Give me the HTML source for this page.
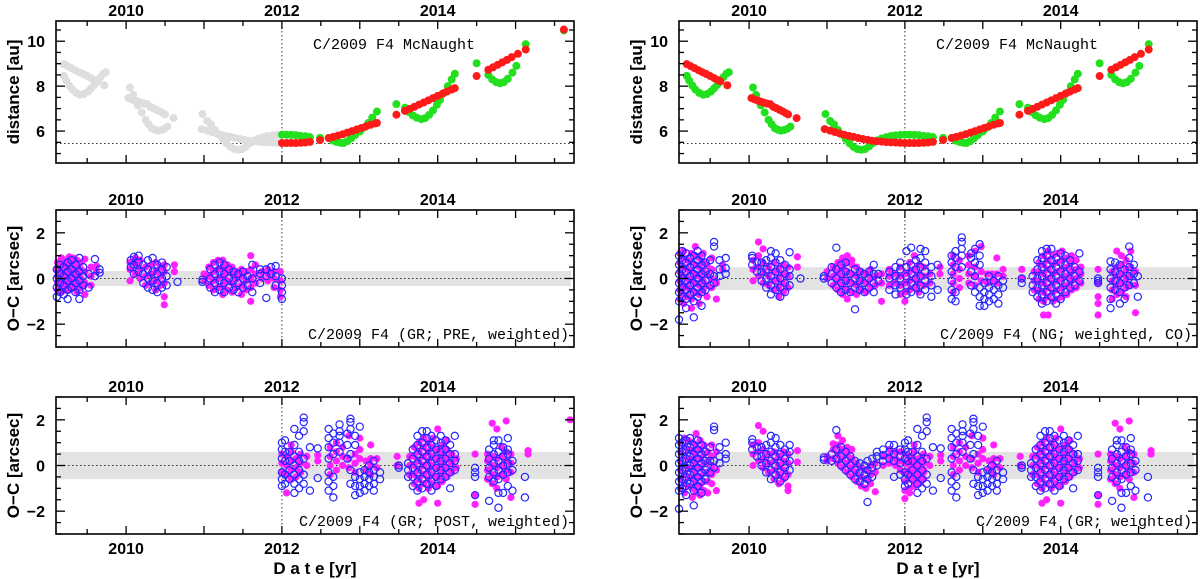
<!DOCTYPE html>
<html><head><meta charset="utf-8"><style>
html,body{margin:0;padding:0;background:#fff;}
svg{display:block;}
.tk{font-family:"Liberation Sans",sans-serif;font-weight:bold;font-size:16px;fill:#000;}
.ttl{font-family:"Liberation Sans",sans-serif;font-weight:bold;font-size:17px;fill:#000;}
.ann{font-family:"Liberation Mono",monospace;font-size:15px;fill:#000;}
</style></head><body>
<svg id="fig" xmlns="http://www.w3.org/2000/svg" width="1200" height="579" viewBox="0 0 1200 579"></svg>
<script>
// ---------- distance data (year, au) ----------
const redDist = [[2009.20,8.98],[2009.25,8.89],[2009.30,8.80],[2009.35,8.71],[2009.40,8.62],[2009.45,8.54],[2009.50,8.45],[2009.55,8.36],[2009.60,8.27],[2009.63,8.22],[2009.72,8.04],
[2010.03,7.47],[2010.07,7.41],[2010.11,7.36],[2010.15,7.31],[2010.19,7.27],[2010.23,7.22],[2010.27,7.20],[2010.31,7.08],[2010.35,7.02],[2010.39,6.95],[2010.43,6.88],[2010.47,6.80],[2010.50,6.74],[2010.61,6.58],
[2010.97,6.09],[2011.04,6.02],[2011.10,5.96],[2011.16,5.90],[2011.22,5.84],[2011.28,5.79],[2011.34,5.74],[2011.40,5.69],[2011.46,5.65],[2011.52,5.61],[2011.58,5.57],[2011.64,5.55],[2011.70,5.53],[2011.76,5.51],[2011.82,5.50],[2011.88,5.49],[2011.94,5.48],[2012.00,5.47],[2012.06,5.47],[2012.12,5.47],[2012.18,5.47],[2012.24,5.48],[2012.30,5.49],[2012.36,5.52],[2012.49,5.60],
[2012.60,5.69],[2012.66,5.74],[2012.72,5.80],[2012.78,5.86],[2012.84,5.93],[2012.90,6.00],[2012.96,6.07],[2013.02,6.14],[2013.08,6.21],[2013.14,6.28],[2013.20,6.34],[2013.22,6.36],
[2013.47,6.73],[2013.58,6.90],[2013.64,6.99],[2013.70,7.08],[2013.76,7.18],[2013.82,7.27],[2013.88,7.37],[2013.94,7.47],[2014.00,7.57],[2014.06,7.66],[2014.12,7.76],[2014.18,7.85],[2014.22,7.91],
[2014.50,8.45],[2014.65,8.73],[2014.71,8.84],[2014.77,8.95],[2014.83,9.06],[2014.89,9.17],[2014.95,9.29],[2015.03,9.44],[2015.13,9.63]];
const redDistExtra = [[2015.62,10.52]];
const greenDist = [[2009.20,8.46],[2009.23,8.25],[2009.27,8.03],[2009.31,7.85],[2009.36,7.70],[2009.41,7.62],[2009.46,7.65],[2009.51,7.76],[2009.55,7.90],[2009.59,8.05],[2009.63,8.20],[2009.67,8.40],[2009.71,8.56],[2009.74,8.62],
[2010.05,7.94],[2010.09,7.61],[2010.12,7.35],[2010.15,7.15],[2010.20,6.83],[2010.25,6.50],[2010.29,6.30],[2010.33,6.13],[2010.37,6.06],[2010.41,6.02],[2010.45,6.05],[2010.49,6.10],[2010.53,6.20],
[2010.98,6.76],[2011.04,6.45],[2011.09,6.30],[2011.14,6.05],[2011.19,5.85],[2011.24,5.65],[2011.29,5.45],[2011.34,5.30],[2011.39,5.20],[2011.44,5.17],[2011.49,5.20],[2011.54,5.32],[2011.59,5.47],[2011.64,5.58],[2011.70,5.67],[2011.76,5.73],[2011.82,5.78],[2011.88,5.81],[2011.94,5.83],[2012.00,5.84],[2012.06,5.84],[2012.12,5.83],[2012.18,5.82],[2012.24,5.79],[2012.30,5.77],[2012.36,5.73],[2012.49,5.70],
[2012.60,5.69],[2012.65,5.58],[2012.70,5.52],[2012.75,5.48],[2012.79,5.47],[2012.84,5.55],[2012.89,5.68],[2012.94,5.83],[2013.00,5.98],[2013.05,6.15],[2013.11,6.36],[2013.16,6.60],[2013.22,6.87],
[2013.47,7.20],[2013.58,7.04],[2013.63,6.85],[2013.68,6.70],[2013.73,6.60],[2013.79,6.53],[2013.84,6.58],[2013.89,6.72],[2013.94,6.92],[2013.99,7.17],[2014.03,7.39],[2014.08,7.70],[2014.13,8.00],[2014.18,8.30],[2014.22,8.55],
[2014.50,9.02],[2014.65,8.50],[2014.70,8.30],[2014.75,8.18],[2014.80,8.13],[2014.85,8.18],[2014.90,8.33],[2014.96,8.60],[2015.01,8.90],[2015.13,9.87]];
const greenDistExtra = [[2015.62,10.48]];

// ---------- O-C data: [year, [residuals arcsec]] ----------
const preMag = [[2009.12,[-0.5,-0.2,0.1,0.4,0.7]],[2009.17,[-0.6,-0.3,0,0.3,0.6,0.9]],[2009.22,[-0.4,-0.1,0.2,0.5,0.8]],[2009.27,[-0.5,-0.2,0.1,0.4,0.7,0.95]],[2009.32,[-0.3,0,0.3,0.6,0.9]],[2009.37,[-0.6,-0.2,0.2,0.5,0.8]],[2009.42,[-0.4,0,0.4,0.7]],[2009.47,[-0.7,-0.2,0.3,0.85]],[2009.55,[-0.3,0.1,0.5]],[2009.62,[0.3,0.55]],
[2010.05,[-0.1,0.4,0.7]],[2010.12,[0.2,0.6,0.9]],[2010.18,[0.0,0.4,0.8]],[2010.25,[-0.3,0.1,0.5]],[2010.32,[-0.2,0.2,0.6]],[2010.38,[-0.5,-0.1,0.3,0.7]],[2010.44,[-0.3,0.1,0.5]],[2010.49,[-0.8,-1.15,-0.2,0.3,0.6]],[2010.62,[0.3,0.6]],
[2011.0,[-0.1,0.2]],[2011.06,[-0.3,0.1,0.5]],[2011.12,[-0.5,-0.1,0.3,0.7]],[2011.18,[-0.4,0,0.4,0.8]],[2011.24,[-0.7,-0.3,0.1,0.5,0.8]],[2011.30,[-0.5,-0.1,0.3,0.6]],[2011.36,[-0.6,-0.2,0.2,0.5]],[2011.42,[-0.4,0,0.3]],[2011.48,[-0.7,-0.3,0.1,0.4]],[2011.54,[-0.5,-0.1,0.3]],[2011.6,[-1.0,-0.4,0,0.4,1.0]],[2011.66,[-0.2,0.2,0.6]],[2011.74,[0,0.3]],[2011.82,[-0.1,0.2,0.4]],[2011.9,[-0.4,0,0.3]],[2011.98,[-0.8,-0.5,-0.1,0.3]]];
const preBlue = [[2009.11,[-0.8,-0.4,0,0.4]],[2009.15,[-0.6,-0.2,0.2,0.6]],[2009.2,[-0.7,-0.3,0.1,0.5]],[2009.25,[-0.9,-0.5,-0.1,0.3,0.7]],[2009.3,[-0.4,0,0.4,0.8]],[2009.35,[-0.6,-0.2,0.2,0.6]],[2009.4,[-0.9,-0.5,-0.1,0.3,0.9]],[2009.45,[-0.3,0.1,0.5]],[2009.52,[-0.4,0.2]],[2009.6,[0.85,0.1]],[2009.66,[0.25,0.4]],
[2010.06,[0.5,0.8]],[2010.1,[0.2,0.6,0.95]],[2010.16,[0.3,0.7,1.0]],[2010.22,[-0.2,0.2,0.6]],[2010.28,[-0.4,0,0.4,0.8]],[2010.34,[-0.5,-0.1,0.3,0.9]],[2010.4,[-0.6,-0.2,0.2,0.6]],[2010.46,[-0.4,0,0.4,0.7]],[2010.52,[-0.3,0.1,0.5]],[2010.66,[-0.15]],
[2010.98,[-0.15,-0.05]],[2011.08,[-0.4,0,0.4]],[2011.14,[-0.6,-0.2,0.2,0.6]],[2011.2,[-0.5,-0.1,0.3,0.7]],[2011.26,[-0.6,-0.2,0.2,0.6]],[2011.32,[-0.4,0,0.4]],[2011.38,[-0.5,-0.1,0.3]],[2011.44,[-0.6,-0.2,0.2]],[2011.5,[-0.4,0,0.3]],[2011.56,[-0.3,0.1]],[2011.62,[-0.6,0,0.6]],[2011.72,[-0.2,0.2,0.4]],[2011.8,[-0.85,0.1,0.4]],[2011.86,[0.2,0.5]],[2011.92,[-0.3,0.1,0.55]],[2012.0,[-0.9,-0.6,-0.3,0]]];

const ngMag = [[2009.11,[-0.9,-0.5,-0.1,0.3,0.7,1.1]],[2009.16,[-1.1,-0.7,-0.3,0.1,0.5,0.9,1.2]],[2009.21,[-0.8,-0.4,0,0.4,0.8]],[2009.26,[-1.3,-0.9,-0.5,-0.1,0.3,0.7,1.1]],[2009.31,[-0.6,-0.2,0.2,0.6,1.0,1.4]],[2009.36,[-1.1,-0.7,-0.3,0.1,0.5,0.9]],[2009.41,[-0.5,-0.1,0.3,0.7,1.1]],[2009.46,[-0.8,-0.3,0.2,0.6]],[2009.52,[-0.4,0,0.4,0.9]],[2009.58,[-0.9,-0.2]],[2009.66,[0.4,0.6]],
[2010.05,[-0.1,0.4,0.8]],[2010.12,[0.1,0.5,1.0,1.6]],[2010.18,[-0.2,0.3,0.7,1.3]],[2010.25,[-0.3,0.1,0.5]],[2010.32,[-0.5,-0.1,0.3,0.7]],[2010.38,[-0.8,-0.4,0,0.4]],[2010.44,[-0.6,-0.2,0.2,0.6]],[2010.5,[-0.4,0.1,0.5]],[2010.62,[0.5,0.95]],
[2011.0,[0,0.3]],[2011.08,[-0.3,0.1,0.5]],[2011.14,[-0.5,-0.1,0.3,0.7]],[2011.2,[-0.7,-0.3,0.1,0.5,0.9]],[2011.26,[-0.9,-0.5,-0.1,0.3,0.7,1.0]],[2011.32,[-0.6,-0.2,0.2,0.6,0.8]],[2011.38,[-0.7,-0.3,0.1,0.5]],[2011.44,[-0.5,-0.1,0.3]],[2011.5,[-0.6,-0.2,0.2]],[2011.56,[-0.4,0,0.4]],[2011.62,[-0.3,0.1]],[2011.7,[-1.0,-0.2,0.2]],[2011.8,[-0.3,0.1,0.4]],[2011.86,[-0.2,0.2]],[2011.94,[-0.7,-0.3,0.1,0.5]],
[2012.0,[-1.0,-0.6,-0.2,0.2]],[2012.06,[-0.5,-0.1,0.3,0.7]],[2012.12,[-0.4,0,0.4,1.0]],[2012.18,[-0.6,-0.2,0.2,0.6]],[2012.24,[-0.3,0.1,0.5]],[2012.32,[-0.2,0.2]],[2012.45,[0.2,0.5]],[2012.62,[-0.6,-0.2,0.2,0.6,1.0]],[2012.7,[-0.4,0,0.4,0.8]],[2012.82,[-0.2,0.2,0.6,1.0]],[2012.9,[-0.3,0.1,0.5,1.2]],[2012.98,[-0.1,0.3,1.4]],[2013.06,[-0.2,0.2]],[2013.12,[-0.1,0.2]],[2013.18,[-0.2,0.2,0.9]],[2013.26,[0.1,0.4]],
[2013.5,[0.4,0]],[2013.66,[-0.5,-0.1,0.3]],[2013.72,[-0.9,-0.5,-0.1,0.3,0.7]],[2013.78,[-1.6,-1.0,-0.6,-0.2,0.2,0.6,1.0]],[2013.84,[-1.6,-0.8,-0.4,0,0.4,0.8,1.2]],[2013.9,[-1.0,-0.6,-0.2,0.2,0.6,1.0]],[2013.96,[-0.9,-0.5,-0.1,0.3,0.7,1.1]],[2014.02,[-0.8,-0.4,0,0.4,0.8,1.2]],[2014.08,[-0.7,-0.3,0.1,0.5,0.9]],[2014.14,[-0.5,-0.1,0.3,0.7,1.0]],[2014.2,[-0.4,0,0.4,0.8]],[2014.26,[-0.2,0.2,0.5]],
[2014.48,[-1.6,-1.1,-0.8,-0.2,0.4]],[2014.66,[-0.9,-0.5,-0.1,0.3]],[2014.72,[-0.7,-0.3,0.1,0.5,1.2]],[2014.78,[-0.6,-0.2,0.2,0.6,1.0]],[2014.84,[-0.8,-0.4,0,0.4,0.8]],[2014.9,[-0.3,0.1,0.5,1.2]],[2014.96,[-1.5,-0.3,0.3]]];
const ngBlue = [[2009.1,[-1.8,-1.0,-0.6,-0.2,0.2,0.6,1.0]],[2009.14,[-0.8,-0.4,0,0.4,0.8,1.2]],[2009.19,[-1.3,-0.9,-0.5,-0.1,0.3,0.7,1.1]],[2009.24,[-0.7,-0.3,0.1,0.5,0.9]],[2009.29,[-1.7,-1.0,-0.6,-0.2,0.2,0.6,1.0]],[2009.34,[-0.8,-0.4,0,0.4,0.8,1.2]],[2009.39,[-1.2,-0.6,-0.2,0.2,0.6,1.0]],[2009.44,[-0.5,-0.1,0.3,0.7]],[2009.5,[-0.3,0.2,0.8]],[2009.55,[1.4,1.6,0.1,-0.2]],[2009.62,[0.1,0.4,0.8]],[2009.7,[0.2,0.45,0.9]],
[2010.04,[0.6,0.9,1.0]],[2010.1,[0.3,0.7]],[2010.16,[-0.1,0.3,0.7]],[2010.22,[-0.4,0,0.4,0.8]],[2010.28,[-0.7,-0.3,0.1,0.5,0.9,1.2]],[2010.34,[-0.5,-0.1,0.3,0.7,1.1]],[2010.4,[-0.8,-0.4,0,0.4,0.8]],[2010.46,[-0.6,-0.2,0.2,0.6]],[2010.52,[-0.3,0.1,0.4,1.15]],[2010.66,[0]],
[2010.96,[0,0.1]],[2011.06,[-0.2,0.2,0.5]],[2011.12,[-0.4,0,0.4,1.35]],[2011.18,[-0.6,-0.2,0.2,0.6]],[2011.24,[-0.5,-0.1,0.3,0.7]],[2011.3,[-0.6,-0.2,0.2]],[2011.36,[-1.35,-0.4,0,0.4]],[2011.42,[-0.5,-0.1,0.3]],[2011.48,[-0.6,-0.2,0.2]],[2011.54,[-0.4,0,0.3]],[2011.6,[-0.6,-0.2,0.2,0.6]],[2011.66,[-0.1,0.2]],[2011.8,[-0.5,0,0.3]],[2011.88,[-0.7,-0.3,0.1,0.5]],[2011.94,[-0.4,0,0.4,0.7]],
[2012.02,[-0.7,-0.3,0.1,0.5,1.2]],[2012.08,[-0.6,-0.2,0.2,0.6,1.35]],[2012.14,[-0.4,0,0.4,0.8]],[2012.2,[-0.7,-0.3,0.1,0.5,0.9,1.3]],[2012.26,[-0.5,-0.1,0.3,0.7,1.2]],[2012.34,[-0.8,-0.3,0.1,0.5]],[2012.42,[-0.5,0.6]],[2012.6,[-0.9,-0.5,-0.1,0.3,0.7,1.0]],[2012.65,[-1.0,-0.6,0.5,0.9,1.2]],[2012.73,[0.5,1.0,1.3,1.6,1.8]],[2012.85,[-0.3,0.3,0.9,1.1]],[2012.9,[-0.6,0.1,0.7,1.3]],[2012.96,[-1.2,-0.8,-0.4,0.6,1.0,1.5]],[2013.02,[-1.2,-0.9,-0.6,-0.2]],[2013.08,[-1.0,-0.7,-0.4,0.1]],[2013.14,[-0.9,-0.5,-0.1]],[2013.2,[-1.1,-0.7,-0.3,0.1]],[2013.26,[-0.4,-0.1]],
[2013.5,[0,-0.2]],[2013.64,[-0.6,-0.3,0.1]],[2013.7,[-0.8,-0.4,0,0.4,0.8]],[2013.76,[-1.1,-0.7,-0.3,0.1,0.5,0.9,1.2]],[2013.82,[-1.0,-0.6,-0.2,0.2,0.6,1.0,1.3]],[2013.88,[-0.8,-0.4,0,0.4,0.8,1.3]],[2013.94,[-1.1,-0.7,-0.3,0.1,0.5,0.9]],[2014.0,[-0.9,-0.5,-0.1,0.3,0.7,1.1]],[2014.06,[-0.6,-0.2,0.2,0.6,1.0]],[2014.12,[-0.4,0,0.4,0.8]],[2014.18,[-0.3,0.1,0.5]],[2014.24,[-0.1,0.3,1.1]],
[2014.48,[-0.2,0,-0.1]],[2014.64,[-1.3,-0.9,-0.4,0,0.4,0.75]],[2014.7,[-0.5,-0.1,0.3,0.7]],[2014.76,[-1.1,-0.6,-0.2,0.2,0.6]],[2014.82,[-0.9,-0.4,0,0.4]],[2014.88,[-0.3,0.1,0.5,0.9,1.4]],[2014.94,[-0.2,0.2,0.6]],[2014.99,[-0.8,0.1]]];

const postMag = [[2012.0,[-0.3,0.1,0.5]],[2012.06,[-1.2,-0.4,0,0.4]],[2012.12,[-0.6,-0.2,0.2,0.6,0.9]],[2012.18,[-0.5,-0.1,0.3]],[2012.24,[-0.3,0.1,0.5]],[2012.32,[0,0.4]],[2012.46,[0.2,0.45]],[2012.62,[-0.4,0,0.4,0.8]],[2012.7,[-0.2,0.2,0.6,1.0]],[2012.78,[0,0.4,0.8]],[2012.86,[-0.1,0.3,1.3]],[2012.94,[-0.3,0.1,0.5]],[2013.0,[0.3,0.7,1.2]],[2013.08,[-0.2,0.2]],[2013.14,[-0.4,0,0.3,0.9]],[2013.22,[-0.1,0.3]],
[2013.48,[0.4,0]],[2013.64,[-0.4,0,0.4]],[2013.7,[-0.8,-0.4,0,0.4,0.8]],[2013.76,[-1.65,-1.0,-0.6,-0.2,0.2,0.6,1.0]],[2013.82,[-1.5,-0.8,-0.4,0,0.4,0.8,1.2]],[2013.88,[-1.0,-0.6,-0.2,0.2,0.6,1.0]],[2013.94,[-0.8,-0.4,0,0.4,0.8,1.2]],[2014.0,[-1.65,-0.9,-0.5,-0.1,0.3,0.7,1.6]],[2014.06,[-0.7,-0.3,0.1,0.5,0.9]],[2014.12,[-0.5,-0.1,0.3,0.7,1.1]],[2014.18,[-0.3,0.1,0.5]],[2014.24,[-0.1,0.3]],
[2014.48,[-1.7,-1.3,0.5]],[2014.64,[-0.6,-0.2,0.2,0.5]],[2014.7,[-0.8,-0.4,0,0.4,1.85]],[2014.76,[-1.0,-0.5,-0.1,0.3,1.6]],[2014.82,[-0.4,0,0.4,0.8]],[2014.88,[-0.6,-0.2,0.2,0.6,1.95]],[2014.94,[-1.4,-0.3,0.1,0.5]],[2015.16,[0.5,0.65]],[2015.7,[2.0]]];
const postBlue = [[2012.0,[-0.9,-0.6,-0.3,0.3,0.7,1.0]],[2012.04,[-0.8,-0.4,0.2,0.6,1.1]],[2012.1,[-0.6,-0.2,0.2,0.6]],[2012.16,[-1.2,-0.8,-0.4,0,0.4,0.9,1.6]],[2012.22,[-1.0,-0.6,-0.2,0.2,0.6,1.3]],[2012.28,[-0.8,-0.4,0.3,1.5,1.9,2.1]],[2012.36,[-1.1,0.8]],[2012.46,[-0.55,0.75]],[2012.6,[-1.1,-0.7,-0.3,0.3,0.8,1.2,1.6]],[2012.66,[-1.4,-0.9,-0.5,0.5,1.0,1.4]],[2012.74,[0.6,1.0,1.3,1.5,1.8]],[2012.84,[0.3,0.9,1.4]],[2012.88,[-0.8,-0.2,0.5,1.6,1.9,2.05]],[2012.94,[-1.3,-0.9,-0.5,0.9,1.3]],[2013.0,[-1.2,-0.9,-0.6,-0.3,1.7]],[2013.06,[-1.1,-0.8,-0.5,-0.2]],[2013.12,[-0.9,-0.6,-0.3,0]],[2013.18,[-1.1,-0.8,-0.5,-0.2,0.2]],[2013.26,[-0.6,-0.3]],
[2013.5,[-0.1,0]],[2013.62,[-0.5,-0.2,0.1]],[2013.68,[-0.9,-0.5,-0.1,0.3,0.7]],[2013.74,[-1.1,-0.7,-0.3,0.1,0.5,0.9,1.3]],[2013.8,[-1.0,-0.6,-0.2,0.2,0.6,1.0,1.5]],[2013.86,[-0.8,-0.4,0,0.4,0.8,1.2,1.5]],[2013.92,[-1.1,-0.7,-0.3,0.1,0.5,0.9,1.3]],[2013.98,[-0.9,-0.5,-0.1,0.3,0.7,1.1]],[2014.04,[-0.6,-0.2,0.2,0.6,1.0,1.3]],[2014.1,[-0.5,-0.1,0.3,0.7,1.1]],[2014.16,[-1.0,-0.3,0.1,0.5,0.9]],[2014.22,[-0.2,0.2,0.5,1.3]],
[2014.48,[-1.3,-0.5,-0.3,-0.1]],[2014.66,[-1.55,-0.5,-0.1,0.3,0.7]],[2014.72,[-0.7,-0.3,0.1,0.5,0.9,1.1]],[2014.78,[-1.85,-1.2,-0.6,-0.2,0.2,0.6,1.1]],[2014.84,[-1.2,-0.4,0,0.4,0.8]],[2014.9,[-0.9,-0.3,0.1,0.5,0.7,1.2]],[2014.96,[-1.1,-0.2,0.2]],[2015.12,[-1.4,-0.5]]];

const grPreMag = [[2009.12,[-1.0,-0.6,-0.2,0.2,0.6,1.0]],[2009.17,[-1.2,-0.8,-0.4,0,0.4,0.8,1.2]],[2009.22,[-0.9,-0.5,-0.1,0.3,0.7,1.1]],[2009.27,[-1.4,-1.0,-0.6,-0.2,0.2,0.6,1.0]],[2009.32,[-1.2,-0.8,-0.4,0,0.4,0.8,1.4]],[2009.37,[-1.3,-0.9,-0.5,-0.1,0.3,0.7,1.1]],[2009.42,[-1.1,-0.7,-0.3,0.1,0.5,0.9]],[2009.47,[-1.2,-0.7,-0.3,0.2,0.6]],[2009.52,[-0.8,-0.4,0,0.4,0.9]],[2009.58,[-1.1,-0.2,0.6]],
[2010.05,[0,0.5,0.9]],[2010.12,[0.2,0.6,1.0,1.75]],[2010.18,[-0.1,0.3,0.7,1.5]],[2010.25,[-0.3,0.1,0.5]],[2010.32,[-0.6,-0.2,0.2,0.6]],[2010.38,[-0.8,-0.4,0,0.4]],[2010.44,[-0.6,-0.2,0.2,0.6]],[2010.5,[-1.1,-0.9,-0.4,0.1,0.5]],[2010.62,[0.15,0.65]],
[2011.0,[0.2,0.4]],[2011.08,[0.3,0.7,0.95]],[2011.14,[0.1,0.5,0.9,1.3]],[2011.2,[-0.1,0.3,0.7,1.1]],[2011.26,[-0.3,0.1,0.5,0.8]],[2011.32,[-0.5,-0.1,0.3,0.7]],[2011.38,[-0.7,-0.3,0.1]],[2011.44,[-0.9,-0.5,-0.1]],[2011.5,[-1.0,-0.6,-0.2]],[2011.56,[-0.8,-0.4,0]],[2011.62,[-1.15,-0.3,0.1]],[2011.72,[0,0.4]],[2011.8,[0.1,0.4,0.7]],[2011.88,[0,0.3,0.6]],[2011.94,[-0.2,0.2,0.6]],
[2012.0,[-1.45,-1.1,-0.7,-0.3,0.1]],[2012.06,[-1.0,-0.6,-0.2,0.2]],[2012.12,[-0.9,-0.5,-0.1,0.3]],[2012.18,[-0.8,-0.4,0]],[2012.24,[-0.6,-0.2,0.2]]];
const grPreBlue = [[2009.1,[-1.9,-1.1,-0.7,-0.3,0.1,0.5,0.9,1.2]],[2009.14,[-1.0,-0.6,-0.2,0.2,0.6,1.0]],[2009.19,[-1.3,-0.9,-0.5,-0.1,0.3,0.7,1.1]],[2009.24,[-0.8,-0.4,0,0.4,0.8,1.2]],[2009.29,[-1.75,-1.1,-0.7,-0.3,0.1,0.5,0.9]],[2009.34,[-0.9,-0.5,-0.1,0.3,0.7,1.1]],[2009.39,[-1.2,-0.7,-0.3,0.1,0.5,0.9]],[2009.44,[-0.6,-0.2,0.2,0.6]],[2009.5,[-0.3,0.2,0.8]],[2009.55,[1.55,1.7,0.2,-0.1]],[2009.62,[0.1,0.4,0.8]],[2009.7,[0.3,0.5,1.0]],
[2010.04,[0.7,1.0,1.15]],[2010.1,[0.4,0.8]],[2010.16,[0,0.4,0.8]],[2010.22,[-0.3,0.1,0.5,0.9]],[2010.28,[-0.6,-0.2,0.2,0.6,1.0,1.3]],[2010.34,[-0.4,0,0.4,0.8,1.2]],[2010.4,[-0.7,-0.3,0.1,0.5,0.9]],[2010.46,[-0.5,-0.1,0.3,0.7]],[2010.52,[-0.2,0.2,0.6,0.9]],
[2010.96,[0.25,0.35]],[2011.06,[0.2,0.5]],[2011.12,[0.3,0.7,1.55]],[2011.18,[0,0.4,0.8]],[2011.24,[-0.2,0.2,0.6]],[2011.3,[-0.4,0,0.4]],[2011.36,[-0.6,-0.2,0.2]],[2011.42,[-0.7,-0.3,0.1]],[2011.48,[-0.8,-0.4,0]],[2011.52,[-1.6,-0.6,-0.2,0.2]],[2011.58,[-0.5,-0.1,0.3]],[2011.64,[0,0.4,0.6]],[2011.72,[0.2,0.45,0.7]],[2011.8,[0.3,0.6,0.9]],[2011.86,[-0.5,0.2,0.5,0.9]],[2011.94,[-0.4,0.1,0.4,0.7]]];

// ---------- axis config ----------
const yearTicks = [2010, 2012, 2014];
const distTicks = [6, 8, 10];
const ocTicks = [-2, 0, 2];
const X0 = 2009.1, X1 = 2015.75;

const NS = 'http://www.w3.org/2000/svg';
const svg = document.getElementById('fig');
function el(tag, attrs, parent, text) {
  const e = document.createElementNS(NS, tag);
  for (const k in attrs) e.setAttribute(k, attrs[k]);
  if (text !== undefined) e.textContent = text;
  (parent || svg).appendChild(e);
  return e;
}

function panel(cfg) {
  const g = el('g', {});
  
  
  const sx = v => cfg.x0 + (v - X0) / (X1 - X0) * (cfg.x1 - cfg.x0);
  const sy = v => cfg.y1 - (v - cfg.ymin) / (cfg.ymax - cfg.ymin) * (cfg.y1 - cfg.y0);
  if (cfg.band) {
    const b = el('rect', {x: cfg.x0 + 2, y: sy(cfg.band), width: cfg.x1 - cfg.x0 - 5, height: sy(-cfg.band) - sy(cfg.band), fill: '#e3e3e3'}, g);
    
    
  }
  const hl = el('line', {x1: cfg.x0, x2: cfg.x1, y1: sy(cfg.href), y2: sy(cfg.href), stroke: '#333', 'stroke-width': 1, 'stroke-dasharray': '1.5,2.5'}, g);
  
  
  const vl = el('line', {x1: sx(2012), x2: sx(2012), y1: cfg.y0 + 6, y2: cfg.y1, stroke: '#333', 'stroke-width': 1, 'stroke-dasharray': '1.5,2.5'}, g);
  
  
  const marks = el('g', {}, g);
  
  
  cfg.series.forEach(s => {
    s.pts.forEach(p => {
      if (s.filter && !s.filter(p[0])) return;
      const vals = Array.isArray(p[1]) ? p[1] : [p[1]];
      vals.forEach(v => {
        const c = el('circle', {cx: sx(p[0]), cy: sy(v), r: s.r}, marks);
        if (s.open) { c.setAttribute('fill', 'none'); c.setAttribute('stroke', s.color); c.setAttribute('stroke-width', 1.2); }
        else c.setAttribute('fill', s.color);
        
        
      });
    });
  });
  const fr = el('rect', {x: cfg.x0, y: cfg.y0, width: cfg.x1 - cfg.x0, height: cfg.y1 - cfg.y0, fill: 'none', stroke: '#000', 'stroke-width': 1.6}, g);
  
  
  for (let t = 2009.5; t <= X1; t += 0.5) {
    const x = sx(t);
    const L = Number.isInteger(t) ? 8 : 5;
    el('line', {x1: x, x2: x, y1: cfg.y1, y2: cfg.y1 - L, stroke: '#000', 'stroke-width': 1.3}, g);
    el('line', {x1: x, x2: x, y1: cfg.y0, y2: cfg.y0 + L, stroke: '#000', 'stroke-width': 1.3}, g);
  }
  for (let v = Math.ceil(cfg.ymin * 2) / 2; v <= cfg.ymax + 1e-6; v += 0.5) {
    const y = sy(v);
    const L = cfg.yTicks.includes(v) ? 9 : 5;
    el('line', {x1: cfg.x0, x2: cfg.x0 + L, y1: y, y2: y, stroke: '#000', 'stroke-width': 1.3}, g);
    el('line', {x1: cfg.x1, x2: cfg.x1 - L, y1: y, y2: y, stroke: '#000', 'stroke-width': 1.3}, g);
  }
  cfg.yTicks.forEach(v => {
    const t = el('text', {x: cfg.x0 - 11, y: sy(v) + 6, 'text-anchor': 'end', class: 'tk'}, g, v < 0 ? '\u2212' + (-v) : String(v));
    
    
  });
  yearTicks.forEach(v => {
    const t = el('text', {x: sx(v), y: cfg.y0 - 5, 'text-anchor': 'middle', class: 'tk'}, g, String(v));
    
    
    if (cfg.bottomLabels) {
      const b = el('text', {x: sx(v), y: cfg.y1 + 20, 'text-anchor': 'middle', class: 'tk'}, g, String(v));
      
      
    }
  });
  const cy = (cfg.y0 + cfg.y1) / 2, tx = cfg.x0 - 37;
  const yt = el('text', {x: tx, y: cy, 'text-anchor': 'middle', class: 'ttl', transform: `rotate(-90 ${tx} ${cy})`}, g, cfg.ytitle);
  
  
  const an = cfg.annTop
    ? el('text', {x: cfg.x0 + 257, y: cfg.y0 + 28, class: 'ann'}, g, cfg.ann)
    : el('text', {x: cfg.x1 - 5, y: cfg.y1 - 8, 'text-anchor': 'end', class: 'ann'}, g, cfg.ann);
  
  
  if (cfg.xtitle) {
    const xt = el('text', {x: (cfg.x0 + cfg.x1) / 2, y: 574, 'text-anchor': 'middle', class: 'ttl', 'font-size': '17'}, g, 'D a t e [yr]');
    
    
  }
}

const RED = '#ff1a1a', GREEN = '#22e01e', GRAY = '#dedede', MAG = '#ff22ff', BLUE = '#2626ff';
const L = {x0: 56, x1: 574}, R = {x0: 679, x1: 1197};
const topY = {y0: 21, y1: 163, ymin: 4.58, ymax: 10.9, yTicks: distTicks, href: 5.45, ytitle: 'distance [au]', annTop: true, ann: 'C/2009 F4 McNaught'};
const midY = {y0: 210, y1: 347, ymin: -3, ymax: 3, yTicks: ocTicks, href: 0, ytitle: 'O\u2212C [arcsec]'};
const botY = {y0: 397, y1: 534, ymin: -3, ymax: 3, yTicks: ocTicks, href: 0, ytitle: 'O\u2212C [arcsec]', bottomLabels: true, xtitle: true};
const DR = 4, OR = 3.6;

panel(Object.assign({name: 'distance-panel-left'}, L, topY, {series: [
  {pts: greenDist, color: GRAY, r: DR, label: 'pre-perihelion-gray-point', filter: t => t < 2011.99},
  {pts: redDist, color: GRAY, r: DR, label: 'pre-perihelion-gray-point', filter: t => t < 2011.99},
  {pts: greenDist.concat(greenDistExtra), color: GREEN, r: DR, label: 'geocentric-distance-point', filter: t => t >= 2011.99},
  {pts: redDist.concat(redDistExtra), color: RED, r: DR, label: 'heliocentric-distance-point', filter: t => t >= 2011.99}]}));
panel(Object.assign({name: 'distance-panel-right'}, R, topY, {series: [
  {pts: greenDist, color: GREEN, r: DR, label: 'geocentric-distance-point'},
  {pts: redDist, color: RED, r: DR, label: 'heliocentric-distance-point'}]}));
panel(Object.assign({name: 'oc-panel-gr-pre'}, L, midY, {band: 0.33, ann: 'C/2009 F4 (GR; PRE, weighted)', series: [
  {pts: preMag, color: MAG, r: OR, label: 'oc-dec-point'},
  {pts: preBlue, color: BLUE, r: OR, open: true, label: 'oc-ra-point'}]}));
panel(Object.assign({name: 'oc-panel-ng'}, R, midY, {band: 0.5, ann: 'C/2009 F4 (NG; weighted, CO)', series: [
  {pts: ngMag, color: MAG, r: OR, label: 'oc-dec-point'},
  {pts: ngBlue, color: BLUE, r: OR, open: true, label: 'oc-ra-point'}]}));
panel(Object.assign({name: 'oc-panel-gr-post'}, L, botY, {band: 0.6, ann: 'C/2009 F4 (GR; POST, weighted)', series: [
  {pts: postMag, color: MAG, r: OR, label: 'oc-dec-point'},
  {pts: postBlue, color: BLUE, r: OR, open: true, label: 'oc-ra-point'}]}));
panel(Object.assign({name: 'oc-panel-gr'}, R, botY, {band: 0.6, ann: 'C/2009 F4 (GR; weighted)', series: [
  {pts: grPreMag.concat(postMag), color: MAG, r: OR, label: 'oc-dec-point', filter: t => t < 2015.5},
  {pts: grPreBlue.concat(postBlue), color: BLUE, r: OR, open: true, label: 'oc-ra-point'}]}));
</script>
</body></html>
